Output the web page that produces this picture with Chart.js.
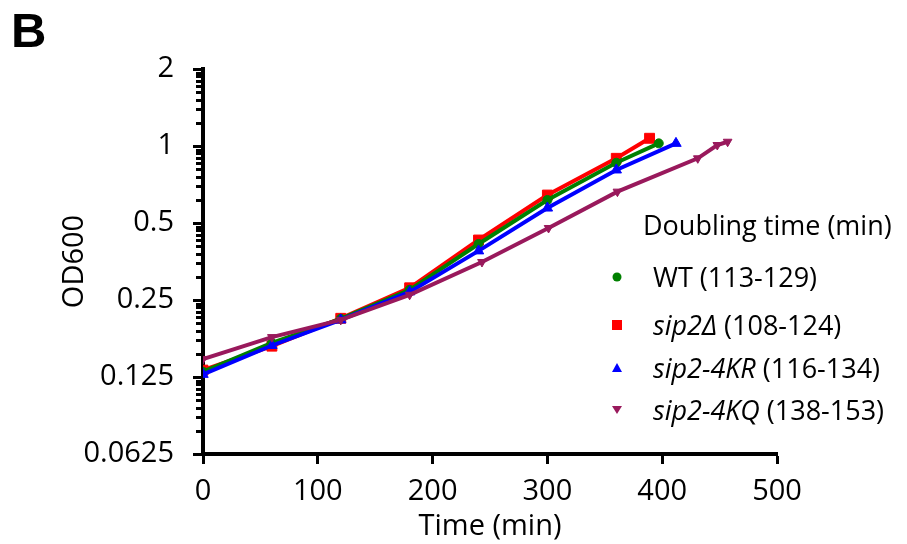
<!DOCTYPE html>
<html>
<head>
<meta charset="utf-8">
<script src="https://cdn.jsdelivr.net/npm/chart.js@4.4.1/dist/chart.umd.min.js"></script>
<style>
    body { margin: 0; background: #fff; }
    #wrap { position: relative; width: 907px; height: 544px; font-family: "Open Sans", sans-serif; }
    #panel { position: absolute; left: 11px; top: 6px; font: bold 49px "Liberation Sans", Arial, sans-serif; line-height: 49px; }
    #legend { position: absolute; left: 0; top: 0; font-size: 27px; color: #000; }
    #legend .title { position: absolute; left: 643px; top: 208px; white-space: nowrap; line-height: 34px; }
    #legend .row { position: absolute; left: 607px; height: 34px; line-height: 34px; white-space: nowrap; display: flex; align-items: center; }
    #legend .row svg { width: 20px; height: 20px; margin-right: 26px; }
</style>
</head>
<body>
<div id="wrap">
    <canvas id="growth" width="907" height="544"></canvas>
    <div id="panel">B</div>
    <div id="legend">
        <div class="title">Doubling time (min)</div>
        <div class="row" style="top:260px"><svg viewBox="0 0 20 20"><circle cx="10" cy="10" r="4.5" fill="#008000"/></svg>WT (113-129)</div>
        <div class="row" style="top:308px"><svg viewBox="0 0 20 20"><rect x="5" y="5" width="10" height="10" fill="#ff0000"/></svg><i>sip2Δ</i>&nbsp;(108-124)</div>
        <div class="row" style="top:351px"><svg viewBox="0 0 20 20"><polygon points="10,5 15,14 5,14" fill="#0000ff"/></svg><i>sip2-4KR</i>&nbsp;(116-134)</div>
        <div class="row" style="top:393px"><svg viewBox="0 0 20 20"><polygon points="5,6 15,6 10,14" fill="#99195c"/></svg><i>sip2-4KQ</i>&nbsp;(138-153)</div>
    </div>
</div>
<script>
// growth curves, OD600
const wtTime = [0, 60, 120, 180, 240, 300, 360, 397];
const wtOD = [0.131, 0.170, 0.211, 0.274, 0.414, 0.615, 0.860, 1.024];

const delTime = [0, 60, 120, 180, 240, 300, 360, 389];
const delOD = [0.133, 0.165, 0.212, 0.279, 0.429, 0.643, 0.895, 1.072];

const krTime = [0, 60, 120, 180, 240, 300, 360, 412];
const krOD = [0.128, 0.166, 0.209, 0.269, 0.389, 0.572, 0.806, 1.024];

const kqTime = [0, 60, 120, 180, 243, 301, 361, 431, 448, 457];
const kqOD = [0.147, 0.179, 0.209, 0.262, 0.352, 0.478, 0.663, 0.895, 1.009, 1.039];

const yTicks = [0.0625, 0.125, 0.25, 0.5, 1, 2];
const xTicks = [0, 100, 200, 300, 400, 500];

function toPoints(t, v) {
    return t.map(function (x, i) { return { x: x, y: v[i] }; });
}

// minor ticks between the doublings
var minorTicks = [];
for (var i = 0; i < yTicks.length - 1; i++) {
    for (var k = 2; k <= 9; k++) {
        minorTicks.push(yTicks[i] * Math.pow(2, Math.log10(k)));
    }
}

const minorTickPlugin = {
    id: 'minorTicks',
    afterDraw(chart) {
        const y = chart.scales.y;
        const ctx = chart.ctx;
        const left = chart.chartArea.left;
        ctx.save();
        ctx.strokeStyle = '#000';
        ctx.lineWidth = 3;
        minorTicks.forEach(function (v) {
            const py = Math.round(y.getPixelForValue(v)) + 0.5;
            ctx.beginPath();
            ctx.moveTo(left - 7, py);
            ctx.lineTo(left, py);
            ctx.stroke();
        });
        ctx.restore();
    }
};

const font = { family: 'Open Sans', size: 29 };

function series(label, t, v, color, style, radius, rotation, order) {
    return {
        label: label,
        data: toPoints(t, v),
        borderColor: color,
        backgroundColor: color,
        borderWidth: 4,
        pointStyle: style,
        pointRadius: radius,
        pointRotation: rotation,
        pointBorderWidth: 1,
        pointBorderColor: color,
        pointBackgroundColor: color,
        order: order,
        tension: 0
    };
}

new Chart(document.getElementById('growth'), {
    type: 'line',
    data: {
        datasets: [
            series('sip2-4KQ', kqTime, kqOD, '#99195c', 'triangle', 5, 180, 0),
            series('sip2-4KR', krTime, krOD, '#0000ff', 'triangle', 6, 0, 1),
            series('WT', wtTime, wtOD, '#008000', 'circle', 4.5, 0, 2),
            series('sip2Δ', delTime, delOD, '#ff0000', 'rect', 7, 0, 3)
        ]
    },
    options: {
        responsive: false,
        animation: false,
        layout: { padding: { left: 57, right: 130, top: 69, bottom: 0 } },
        plugins: { legend: { display: false }, tooltip: { enabled: false } },
        scales: {
            x: {
                type: 'linear',
                min: 0,
                max: 500,
                afterBuildTicks: function (scale) {
                    scale.ticks = xTicks.map(function (v) { return { value: v }; });
                },
                afterFit: function (scale) { scale.height = 90; },
                border: { color: '#000', width: 4 },
                grid: { drawOnChartArea: false, tickLength: 10, tickWidth: 3, tickColor: '#000' },
                ticks: { color: '#000', font: font, padding: 10, maxRotation: 0 },
                title: { display: true, text: 'Time (min)', color: '#000', font: font, padding: 0 }
            },
            y: {
                type: 'logarithmic',
                min: 0.0625,
                max: 2,
                afterBuildTicks: function (scale) {
                    scale.ticks = yTicks.map(function (v) { return { value: v, major: true }; });
                },
                afterFit: function (scale) { scale.width = 146; },
                border: { color: '#000', width: 4 },
                grid: { drawOnChartArea: false, tickLength: 10, tickWidth: 3, tickColor: '#000' },
                ticks: {
                    color: '#000',
                    font: font,
                    padding: 19,
                    callback: function (v) { return String(v); }
                },
                title: { display: true, text: 'OD600', color: '#000', font: font, padding: 0 }
            }
        }
    },
    plugins: [minorTickPlugin]
});
</script>
</body>
</html>
